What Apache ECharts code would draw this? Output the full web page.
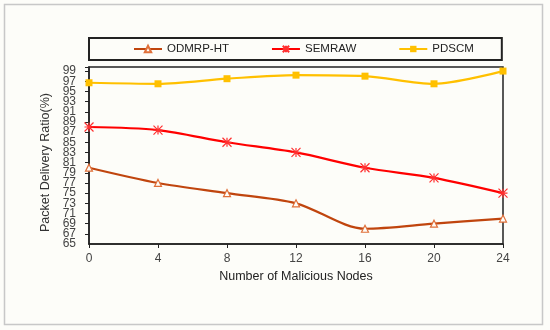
<!DOCTYPE html>
<html><head><meta charset="utf-8">
<script src="https://cdn.jsdelivr.net/npm/echarts@6/dist/echarts.min.js"></script>
<style>html,body{margin:0;padding:0;background:#fff}#c{width:550px;height:330px}</style>
</head><body><div id="c"></div>
<script>
const xValues = [0, 4, 8, 12, 16, 20, 24];
const odmrpHT = [80, 77, 75, 73, 68, 69, 70];
const semraw = [88, 87.4, 85, 83, 80, 78, 75];
const pdscm = [96.7, 96.5, 97.5, 98.2, 98, 96.5, 99];
const seriesNames = ['ODMRP-HT', 'SEMRAW', 'PDSCM'];
const yMin = 65, yMax = 99.8, yStep = 2;

const pair = arr => xValues.map((x, i) => [x, arr[i]]);
const font = '"Liberation Sans", Arial, sans-serif';
const labelBase = {fontFamily: '"Liberation Sans Narrow", "Arial Narrow", "Liberation Sans", sans-serif', fontSize: 12, color: '#444', margin: 13};
const chart = echarts.init(document.getElementById('c'), null, {renderer: 'canvas'});
chart.setOption({
  backgroundColor: '#fdfdf9',
  animation: false,
  graphic: [{type: 'rect', shape: {x: 4.5, y: 4.5, width: 538, height: 320}, style: {fill: 'none', stroke: '#c8c8c8', lineWidth: 1.5}}],
  legend: {
    left: 89, top: 38,
    padding: [5, 28, 5, 44],
    borderColor: '#222', borderWidth: 2,
    itemGap: 42, itemWidth: 28, itemHeight: 8,
    textStyle: {fontFamily: font, fontSize: 11.5, color: '#222'},
    data: seriesNames
  },
  grid: {left: 89, right: 47, top: 67, bottom: 86, show: true, borderColor: '#222', borderWidth: 1.5},
  xAxis: {
    type: 'value', min: 0, max: 24, interval: 4,
    name: 'Number of Malicious Nodes', nameLocation: 'middle', nameGap: 26,
    nameTextStyle: {fontFamily: font, fontSize: 12.5, color: '#222'},
    axisLine: {lineStyle: {color: '#222', width: 1.5}},
    axisTick: {show: true, length: 4, lineStyle: {color: '#222'}},
    axisLabel: {fontFamily: font, fontSize: 12, color: '#444', margin: 9},
    splitLine: {show: false}
  },
  yAxis: [{
    type: 'value', min: yMin, max: yMax, interval: yStep,
    name: 'Packet Delivery Ratio(%)', nameLocation: 'middle', nameGap: 28,
    nameTextStyle: {fontFamily: font, fontSize: 12.5, color: '#333', padding: [0, 14, 0, 0]},
    axisLine: {show: true, lineStyle: {color: '#222', width: 1.5}},
    axisTick: {show: true, length: 4, lineStyle: {color: '#222'}},
    axisLabel: Object.assign({}, labelBase, {showMinLabel: false,
      formatter: v => (Math.round(v) === v && v % 2 === 1) ? String(v) : ''}),
    splitLine: {show: false}
  }, {
    type: 'value', position: 'left', min: yMin, max: yMax, interval: yStep,
    axisLine: {show: false}, axisTick: {show: false}, splitLine: {show: false},
    axisLabel: Object.assign({}, labelBase, {showMinLabel: true,
      formatter: v => v === yMin ? String(v) : ''})
  }],
  series: [
    {name: seriesNames[0], type: 'line', smooth: 0.3, data: pair(odmrpHT),
     symbol: 'triangle', symbolSize: 7, showAllSymbol: true,
     lineStyle: {color: '#c0450e', width: 2.2},
     itemStyle: {color: '#fdfdf9', borderColor: '#e0703a', borderWidth: 1.2}},
    {name: seriesNames[1], type: 'line', smooth: 0.3, data: pair(semraw),
     symbol: 'path://M0,0L10,10M10,0L0,10M5,0L5,10M0,5L10,5', symbolSize: 9,
     lineStyle: {color: '#ff0000', width: 2.2},
     itemStyle: {color: 'none', borderColor: '#ff3030', borderWidth: 1.2}},
    {name: seriesNames[2], type: 'line', smooth: 0.3, data: pair(pdscm),
     symbol: 'rect', symbolSize: 7,
     lineStyle: {color: '#ffc000', width: 2.2},
     itemStyle: {color: '#ffc000'}}
  ]
});
</script></body></html>
